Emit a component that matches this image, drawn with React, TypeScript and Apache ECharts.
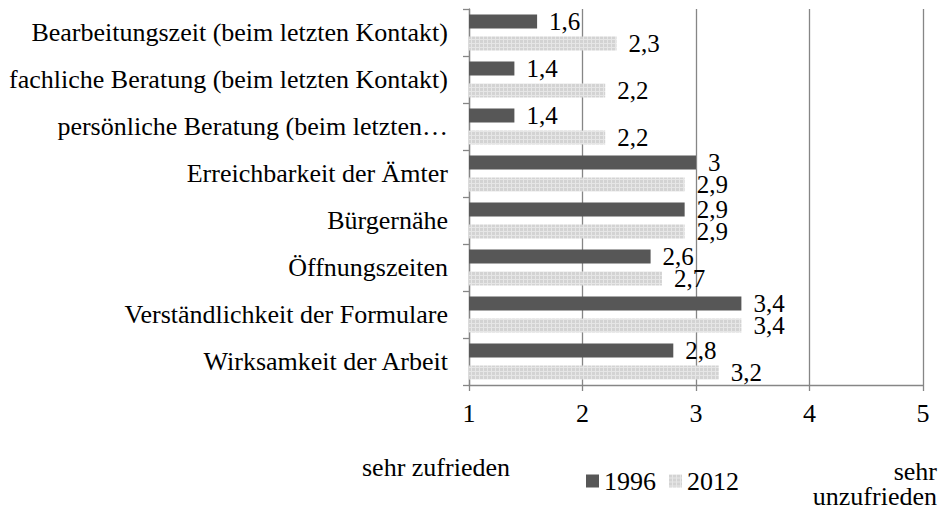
import React, { useEffect, useRef } from "react";
import * as echarts from "echarts";

const categories = [
  "Bearbeitungszeit (beim letzten Kontakt)",
  "fachliche Beratung (beim letzten Kontakt)",
  "persönliche Beratung (beim letzten Kontakt)",
  "Erreichbarkeit der Ämter",
  "Bürgernähe",
  "Öffnungszeiten",
  "Verständlichkeit der Formulare",
  "Wirksamkeit der Arbeit",
];
const displayLabels: Record<string, string> = {
  "persönliche Beratung (beim letzten Kontakt)": "persönliche Beratung (beim letzten…",
};
const values1996 = [1.6, 1.4, 1.4, 3.0, 2.9, 2.6, 3.4, 2.8];
const values2012 = [2.3, 2.2, 2.2, 2.9, 2.9, 2.7, 3.4, 3.2];
const seriesNames = ["1996", "2012"];
const xTicks = [1, 2, 3, 4, 5];
const leftNote = "sehr zufrieden";
const rightNote = ["sehr", "unzufrieden"];

const FONT = "Liberation Serif";
const FS = 26;
const AXIS_COLOR = "#868686";

function makePattern() {
  const c = document.createElement("canvas");
  c.width = 4;
  c.height = 4;
  const ctx = c.getContext("2d")!;
  ctx.fillStyle = "#d3d3d3";
  ctx.fillRect(0, 0, 4, 4);
  ctx.fillStyle = "#e6e6e6";
  ctx.fillRect(3, 0, 1, 4);
  ctx.fillRect(0, 3, 4, 1);
  return { image: c, repeat: "repeat", imageWidth: 4, imageHeight: 4 } as any;
}

export default function App() {
  const ref = useRef<HTMLDivElement>(null);
  useEffect(() => {
    document.body.style.margin = "0";
    const chart = echarts.init(ref.current!, null, { renderer: "svg" });
    const pattern = makePattern();
    const fmt = (p: any) => String(p.value).replace(".", ",");
    const labelStyle = {
      show: true,
      position: "right",
      distance: 12,
      fontSize: 25,
      color: "#000",
      fontFamily: FONT,
      formatter: fmt,
    };
    chart.setOption({
      animation: false,
      backgroundColor: "#ffffff",
      textStyle: { fontFamily: FONT, color: "#000" },
      grid: { left: 469, right: 22, top: 9, bottom: 124, containLabel: false },
      xAxis: {
        type: "value",
        min: xTicks[0],
        max: xTicks[xTicks.length - 1],
        interval: 1,
        axisLine: { show: true, lineStyle: { color: AXIS_COLOR, width: 1.3 } },
        axisTick: { show: true, length: 6, lineStyle: { color: AXIS_COLOR, width: 1.3 } },
        splitLine: { show: true, lineStyle: { color: AXIS_COLOR, width: 1.3 } },
        axisLabel: { fontSize: FS, color: "#000", margin: 15, fontFamily: FONT },
      },
      yAxis: {
        type: "category",
        inverse: true,
        data: categories,
        axisLine: { show: true, lineStyle: { color: AXIS_COLOR, width: 1.3 } },
        axisTick: { show: true, length: 6, lineStyle: { color: AXIS_COLOR, width: 1.3 } },
        axisLabel: {
          fontSize: FS,
          color: "#000",
          margin: 21,
          fontFamily: FONT,
          formatter: (v: string) => displayLabels[v] ?? v,
        },
      },
      legend: {
        data: seriesNames,
        left: 586,
        top: 468,
        padding: 0,
        itemWidth: 13,
        itemHeight: 13,
        itemGap: 13,
        icon: "rect",
        textStyle: { fontSize: FS, color: "#000", fontFamily: FONT },
      },
      series: [
        {
          name: seriesNames[0],
          type: "bar",
          data: values1996,
          barWidth: 14,
          barGap: "57%",
          itemStyle: { color: "#575757" },
          label: labelStyle,
        },
        {
          name: seriesNames[1],
          type: "bar",
          data: values2012,
          barWidth: 14,
          barGap: "57%",
          itemStyle: { color: pattern },
          label: labelStyle,
        },
      ],
      graphic: [
        {
          type: "text",
          x: 362,
          y: 467,
          style: { text: leftNote, fontSize: FS, fontFamily: FONT, fill: "#000", align: "left", verticalAlign: "middle" },
        },
        {
          type: "text",
          x: 937,
          y: 471,
          style: { text: rightNote[0], fontSize: FS, fontFamily: FONT, fill: "#000", align: "right", verticalAlign: "middle" },
        },
        {
          type: "text",
          x: 937,
          y: 496,
          style: { text: rightNote[1], fontSize: FS, fontFamily: FONT, fill: "#000", align: "right", verticalAlign: "middle" },
        },
      ],
    });
    return () => chart.dispose();
  }, []);
  return <div ref={ref} style={{ width: 945, height: 509 }} />;
}
